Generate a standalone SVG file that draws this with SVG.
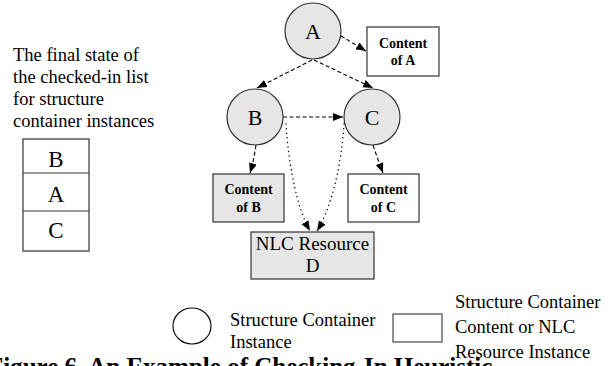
<svg xmlns="http://www.w3.org/2000/svg" width="616" height="366" viewBox="0 0 616 366">
<style>
text{font-family:"Liberation Serif","Times New Roman",serif;fill:#000}
.node{fill:#e6e6e6;stroke:#333;stroke-width:1.2}
.box{fill:#fff;stroke:#333;stroke-width:1.2}
.lbl{font-size:22px;text-anchor:middle}
.bold{font-size:14px;font-weight:bold;text-anchor:middle}
.reg{font-size:18.5px}
.dash{fill:none;stroke:#000;stroke-width:1.1;stroke-dasharray:4 2.5}
.dot{fill:none;stroke:#000;stroke-width:1.4;stroke-dasharray:0.1 4.5;stroke-linecap:round}
</style>
<defs>
<marker id="arr" markerUnits="userSpaceOnUse" markerWidth="11" markerHeight="9" refX="10" refY="4" orient="auto">
<path d="M0,0 L10,4 L0,8 z" fill="#000"/>
</marker>
</defs>

<g id="list-caption">
<text class="reg" x="13" y="61">The final state of</text>
<text class="reg" x="13" y="83">the checked-in list</text>
<text class="reg" x="13" y="105">for structure</text>
<text class="reg" x="13" y="127">container instances</text>
</g>
<g id="list">
<rect x="23" y="139" width="66" height="112" fill="#fff" stroke="#333" stroke-width="1.2"/>
<line x1="23" y1="173" x2="89" y2="173" stroke="#333" stroke-width="1.2"/>
<line x1="23" y1="211" x2="89" y2="211" stroke="#333" stroke-width="1.2"/>
<text x="56" y="167" style="font-size:23px;text-anchor:middle">B</text>
<text x="56" y="202" style="font-size:23px;text-anchor:middle">A</text>
<text x="56" y="238" style="font-size:23px;text-anchor:middle">C</text>
</g>

<g id="connectors">
<path class="dash" d="M341,36 L366,51" marker-end="url(#arr)"/>
<path class="dash" d="M312,60 L257,88" marker-end="url(#arr)"/>
<path class="dash" d="M314,60 L373,88" marker-end="url(#arr)"/>
<path class="dash" d="M283,117 L343,117" marker-end="url(#arr)"/>
<path class="dash" d="M256,145 Q254,160 250,173" marker-end="url(#arr)"/>
<path class="dash" d="M373,145 Q378,160 383,173" marker-end="url(#arr)"/>
<path class="dot" d="M286,124 C289,170 298,210 310,231" marker-end="url(#arr)"/>
<path class="dot" d="M344,124 C341,170 330,210 317,231" marker-end="url(#arr)"/>
</g>

<g id="A">
<circle class="node" cx="313" cy="31" r="28"/>
<text class="lbl" x="313" y="39">A</text>
</g>
<g id="B">
<circle class="node" cx="255" cy="117" r="28"/>
<text class="lbl" x="255" y="125">B</text>
</g>
<g id="C">
<circle class="node" cx="372" cy="117" r="28"/>
<text class="lbl" x="372" y="125">C</text>
</g>
<g id="content-A">
<rect class="box" x="367" y="27" width="72" height="49"/>
<text class="bold" x="403" y="48">Content</text>
<text class="bold" x="403" y="65">of A</text>
</g>
<g id="content-B">
<rect class="node" x="213" y="174" width="71" height="48"/>
<text class="bold" x="248.5" y="194">Content</text>
<text class="bold" x="248.5" y="212">of B</text>
</g>
<g id="content-C">
<rect class="box" x="348" y="174" width="71" height="48"/>
<text class="bold" x="383.5" y="194">Content</text>
<text class="bold" x="383.5" y="212">of C</text>
</g>
<g id="D">
<rect class="node" x="251" y="232" width="123" height="47"/>
<text x="312.5" y="250" style="font-size:19px;text-anchor:middle">NLC Resource</text>
<text x="312.5" y="272" style="font-size:19px;text-anchor:middle">D</text>
</g>

<g id="legend">
<ellipse cx="192" cy="326" rx="19" ry="18" fill="#fff" stroke="#000" stroke-width="1.1"/>
<text class="reg" x="230" y="326">Structure Container</text>
<text class="reg" x="230" y="348">Instance</text>
<rect x="393" y="314" width="49" height="28" fill="#fff" stroke="#333" stroke-width="1.1"/>
<text class="reg" x="455" y="308">Structure Container</text>
<text class="reg" x="455" y="333">Content or NLC</text>
<text class="reg" x="455" y="358">Resource Instance</text>
</g>

<text x="-12" y="375" style="font-size:25px;font-weight:bold">Figure 6. An Example of Checking-In Heuristic</text>
</svg>
